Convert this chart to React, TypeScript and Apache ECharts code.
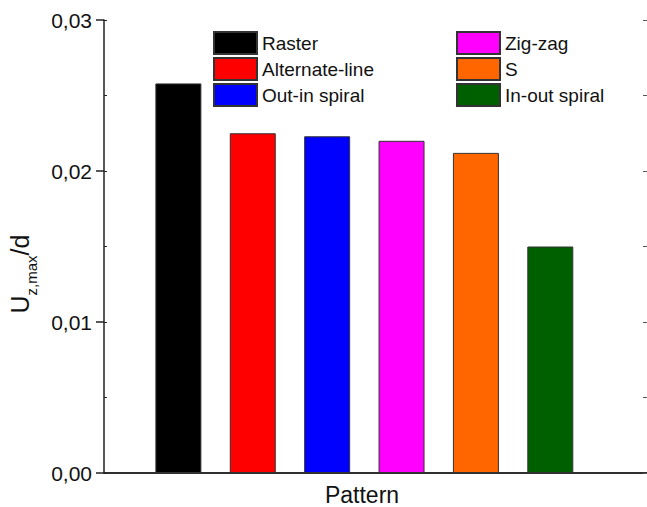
import React, { useEffect, useRef } from "react";
import * as echarts from "echarts";

const patterns = ["Raster", "Alternate-line", "Out-in spiral", "Zig-zag", "S", "In-out spiral"];
const values = [0.0258, 0.0225, 0.0223, 0.022, 0.0212, 0.015];
const colors = ["#000000", "#ff0000", "#0000ff", "#ff00ff", "#ff6600", "#006000"];
const positions = [1, 2, 3, 4, 5, 6];
const yTicks = [0, 0.01, 0.02, 0.03];

export default function App() {
  const ref = useRef<HTMLDivElement>(null);
  useEffect(() => {
    if (!ref.current) return;
    const chart = echarts.init(ref.current, null, { renderer: "svg" });
    const font = "Liberation Sans, Arial, sans-serif";
    const axisColor = "#222";
    const series = patterns.map((name, i) => ({
      name,
      type: "bar",
      xAxisIndex: 0,
      yAxisIndex: 0,
      barWidth: 46,
      barGap: "-100%",
      data: [[positions[i], values[i]]],
      itemStyle: { color: colors[i], borderColor: "#333", borderWidth: 1 },
    }));
    chart.setOption({
      animation: false,
      backgroundColor: "#fff",
      textStyle: { fontFamily: font },
      grid: { left: 104, top: 20, right: 0, bottom: 34 },
      legend: [
        {
          data: patterns.slice(0, 3),
          orient: "vertical",
          left: 213,
          top: 31,
          padding: 0,
          itemWidth: 43,
          itemHeight: 22,
          itemGap: 2,
          selectedMode: false,
          icon: "rect",
          textStyle: { fontSize: 19, color: "#111", fontFamily: font },
        },
        {
          data: patterns.slice(3),
          orient: "vertical",
          left: 456,
          top: 31,
          padding: 0,
          itemWidth: 43,
          itemHeight: 22,
          itemGap: 2,
          selectedMode: false,
          icon: "rect",
          textStyle: { fontSize: 19, color: "#111", fontFamily: font },
        },
      ],
      xAxis: [
        {
          type: "value",
          min: 0,
          max: 7.3,
          position: "bottom",
          axisLine: { show: true, lineStyle: { color: axisColor, width: 1.5 } },
          axisTick: { show: false },
          axisLabel: { show: false },
          splitLine: { show: false },
        },
        {
          type: "value",
          min: 0,
          max: 7.3,
          position: "top",
          axisLine: { show: true, lineStyle: { color: axisColor, width: 1.5 } },
          axisTick: { show: false },
          axisLabel: { show: false },
          splitLine: { show: false },
        },
      ],
      yAxis: [
        {
          type: "value",
          min: yTicks[0],
          max: yTicks[yTicks.length - 1],
          interval: 0.01,
          position: "left",
          axisLine: { show: true, lineStyle: { color: axisColor, width: 1.5 } },
          axisTick: { show: true, length: 8, lineStyle: { color: axisColor, width: 1.5 } },
          axisLabel: {
            fontSize: 21,
            color: "#111",
            fontFamily: font,
            margin: 12,
            formatter: (v: number) => v.toFixed(2).replace(".", ","),
          },
          splitLine: { show: false },
        },
        {
          type: "value",
          min: 0,
          max: 0.03,
          interval: 0.005,
          position: "left",
          axisLine: { show: false },
          axisTick: { show: true, inside: true, length: 3, lineStyle: { color: axisColor, width: 1 } },
          axisLabel: { show: false },
          splitLine: { show: false },
        },
        {
          type: "value",
          min: 0,
          max: 0.03,
          interval: 0.005,
          position: "right",
          axisLine: { show: false },
          axisTick: { show: true, inside: true, length: 4, lineStyle: { color: "#555", width: 1 } },
          axisLabel: { show: false },
          splitLine: { show: false },
        },
      ],
      graphic: [
        {
          type: "text",
          x: 20,
          y: 274,
          rotation: Math.PI / 2,
          style: {
            text: "{u|U}{s|z,max}{u|/d}",
            align: "center",
            verticalAlign: "middle",
            fill: "#111",
            font: `25px ${font}`,
            rich: {
              u: { fontSize: 25, fontFamily: font, fill: "#111", lineHeight: 30 },
              s: { fontSize: 15, fontFamily: font, fill: "#111", verticalAlign: "bottom", lineHeight: 15, padding: [0, 0, -4, 0] },
            },
          },
        },
        {
          type: "text",
          x: 362,
          y: 495,
          style: {
            text: "Pattern",
            align: "center",
            verticalAlign: "middle",
            fill: "#111",
            font: `23px ${font}`,
          },
        },
      ],
      series,
    });
    return () => chart.dispose();
  }, []);
  return <div ref={ref} style={{ width: 647, height: 507, position: "absolute", left: 0, top: 0 }} />;
}
